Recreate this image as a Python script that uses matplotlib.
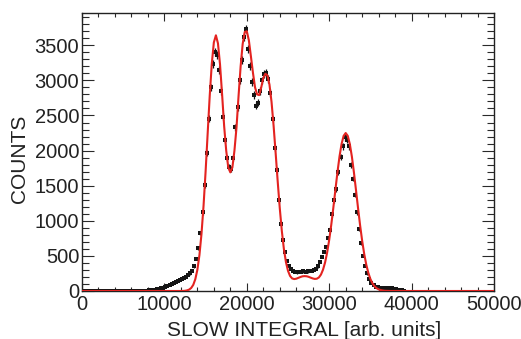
import numpy as np
import matplotlib
matplotlib.use("Agg")
import matplotlib.pyplot as plt
from matplotlib.ticker import MultipleLocator

plt.rcParams['font.family'] = ['Liberation Sans', 'DejaVu Sans']

# histogram: 250-unit bins starting at 0, counts
BIN_W = 250
counts = [
    0, 0, 0, 0, 0, 0, 0, 0, 0, 0, 0, 0, 0, 0, 0, 0, 0, 0, 0, 0,
    0, 0, 0, 0, 1, 1, 1, 2, 2, 3, 4, 6, 8, 11, 14, 19, 24, 30, 38, 47,
    57, 68, 81, 95, 110, 125, 141, 157, 173, 189, 205, 224, 250, 289, 353, 457, 607, 821, 1119, 1507,
    1966, 2453, 2900, 3236, 3400, 3365, 3150, 2850, 2480, 2150, 1900, 1760, 1740, 1900, 2330, 2620, 3000, 3290, 3620, 3730,
    3450, 3200, 2980, 2790, 2640, 2680, 2850, 3000, 3090, 3110, 3020, 2820, 2450, 2040, 1720, 1290, 960, 720, 560, 430,
    360, 310, 285, 270, 265, 270, 275, 280, 275, 280, 285, 285, 295, 310, 350, 420, 490, 560, 630, 750,
    870, 1090, 1290, 1450, 1700, 1910, 2060, 2190, 2150, 2060, 1800, 1600, 1370, 1120, 880, 680, 500, 360, 250, 170,
    118, 83, 63, 53, 49, 48, 47, 46, 44, 40, 36, 30, 24, 19, 14, 10, 0,
]

# fit curve, sampled every 250 units from 10000 to 38000 (zero elsewhere)
FIT_START, FIT_STEP = 10000, 250
fit_vals = [
    0, 0, 0, 0, 0, 0, 0, 0, 0, 1, 3, 9, 20, 43, 87, 168, 302, 511, 813, 1214,
    1704, 2246, 2782, 3237, 3541, 3642, 3527, 3225, 2803, 2349, 2000, 1760, 1690, 1760, 2000, 2330, 2780, 3200, 3520, 3690,
    3700, 3570, 3340, 3104, 2900, 2800, 2790, 2900, 3033, 3094, 3072, 2940, 2694, 2356, 1964, 1559, 1180, 855, 598, 411,
    287, 214, 179, 170, 175, 187, 199, 209, 212, 210, 202, 190, 179, 172, 175, 193, 234, 304, 407, 549,
    729, 944, 1185, 1440, 1691, 1916, 2095, 2210, 2250, 2210, 2094, 1915, 1689, 1437, 1180, 934, 714, 526, 374, 257,
    170, 109, 67, 40, 23, 13, 7, 3, 2, 1, 0, 0, 0,
]

XMAX, YMAX = 50000, 3960

counts = np.array(counts, dtype=float)
xc = np.arange(len(counts)) * BIN_W + BIN_W / 2
fx = np.arange(len(fit_vals)) * FIT_STEP + FIT_START
fx = np.concatenate([[0], fx, [XMAX]])
fy = np.concatenate([[0], fit_vals, [0]])

fig = plt.figure(figsize=(5.21, 3.39), dpi=100)
ax = fig.add_axes([0.1574, 0.1416, 0.7908, 0.8201])

ax.errorbar(xc, counts, yerr=np.sqrt(counts), fmt='s', ms=2.4, mew=0,
            color='#151515', ecolor='#151515', elinewidth=0.9, capsize=0, zorder=2)
ax.plot(fx, fy, color='#e42320', lw=1.5, zorder=3)

ax.set_xlim(0, XMAX)
ax.set_ylim(0, YMAX)
ax.xaxis.set_major_locator(MultipleLocator(10000))
ax.xaxis.set_minor_locator(MultipleLocator(2000))
ax.yaxis.set_major_locator(MultipleLocator(500))
ax.yaxis.set_minor_locator(MultipleLocator(100))

ax.tick_params(which='both', direction='in', top=True, right=True,
               colors='#2a2a2a', labelcolor='#222222', labelsize=14.5, width=0.8)
ax.tick_params(axis='x', which='major', length=5.5, pad=3)
ax.tick_params(axis='x', which='minor', length=3)
ax.tick_params(axis='y', which='major', length=8.5, pad=2)
ax.tick_params(axis='y', which='minor', length=5)
for s in ax.spines.values():
    s.set_color('#222222')
    s.set_linewidth(1.0)

fig.text(0.5835, 0.0074, 'SLOW INTEGRAL [arb. units]', fontsize=15, color='#222222',
         ha='center', va='baseline')
fig.text(0.0365, 0.531, 'COUNTS', fontsize=15, color='#222222', rotation=90,
         ha='center', va='center')

fig.savefig('out.png', dpi=100)
